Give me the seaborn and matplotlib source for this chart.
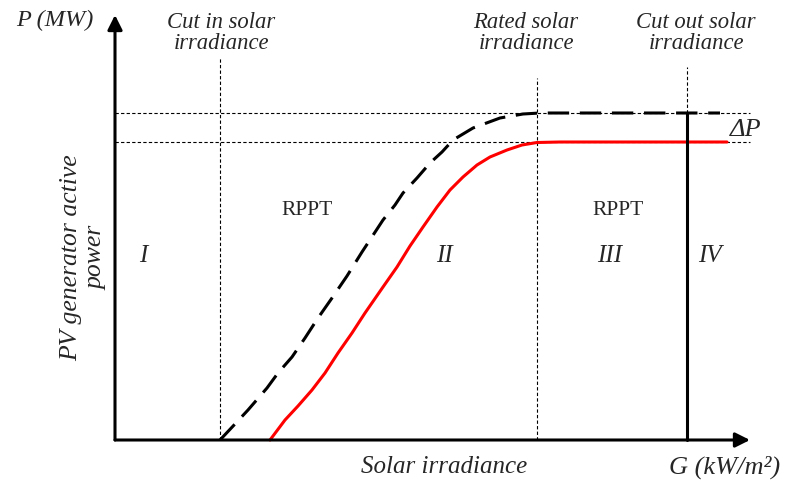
import matplotlib
matplotlib.use("Agg")
import matplotlib.pyplot as plt
import seaborn as sns
import pandas as pd

sns.set_theme(style="white")
plt.rcParams['font.family'] = ['Liberation Serif', 'DejaVu Serif']

# Data (schematic units: x = irradiance, y = power)
red_x = [1.55, 1.70, 1.83, 1.97, 2.10, 2.23, 2.37, 2.50, 2.68, 2.82, 2.95, 3.08, 3.22, 3.35,
         3.48, 3.62, 3.75, 3.92, 4.07, 4.22, 4.45, 6.12]
red_y = [0.00, 0.20, 0.34, 0.50, 0.67, 0.87, 1.07, 1.27, 1.53, 1.73, 1.94, 2.13, 2.33, 2.50,
         2.63, 2.75, 2.83, 2.90, 2.95, 2.975, 2.98, 2.98]
dash_x = [1.05, 1.20, 1.33, 1.52, 1.63, 1.77, 1.90, 2.03, 2.17, 2.32, 2.47, 2.68, 2.80, 2.88,
          3.02, 3.15, 3.27, 3.38, 3.58, 3.85, 4.08, 4.25, 6.05]
dash_y = [0.00, 0.16, 0.30, 0.52, 0.67, 0.83, 1.02, 1.22, 1.42, 1.64, 1.88, 2.20, 2.35, 2.47,
          2.62, 2.77, 2.88, 3.00, 3.12, 3.22, 3.26, 3.27, 3.27]
cut_in, rated, cut_out = 1.05, 4.22, 5.72
p_avail, p_red = 3.27, 2.98
region_labels = ["I", "II", "III", "IV"]
region_x = [0.28, 3.29, 4.95, 5.95]

fig = plt.figure(figsize=(7.88, 4.83), dpi=100)
ax = fig.add_axes([0, 0, 1, 1])
ax.set_xlim(-1.15, 6.73)
ax.set_ylim(-0.43, 4.40)
ax.axis("off")

dot = dict(color="black", lw=0.8, ls=(0, (3, 2)))
# guides
ax.plot([0, 6.35], [p_avail, p_avail], **dot)
ax.plot([0, 6.35], [p_red, p_red], **dot)
ax.plot([cut_in, cut_in], [0, 3.82], **dot)
ax.plot([rated, rated], [0, 3.62], **dot)
ax.plot([cut_out, cut_out], [p_avail, 3.73], **dot)

df_red = pd.DataFrame({"x": red_x, "y": red_y})
df_dash = pd.DataFrame({"x": dash_x, "y": dash_y})
sns.lineplot(data=df_red, x="x", y="y", sort=False, estimator=None, color="#ff0000", lw=2.2, ax=ax)
l = sns.lineplot(data=df_dash, x="x", y="y", sort=False, estimator=None, color="black", lw=2.2, ax=ax)
l.lines[-1].set_dashes((7, 3.5))
ax.set_xlabel("")
ax.set_ylabel("")

# cut out vertical thick line
ax.plot([cut_out, cut_out], [0, p_avail], color="black", lw=2.2)

# axes arrows
ap = dict(arrowstyle="-|>", lw=2.2, color="black", mutation_scale=22, shrinkA=0, shrinkB=0)
ax.annotate("", xy=(0, 4.25), xytext=(0, 0), arrowprops=ap)
ax.annotate("", xy=(6.35, 0), xytext=(0, 0), arrowprops=ap)

fs = 16.3
ax.text(-0.6, 4.2, "P (MW)", fontsize=17.5, style="italic", ha="center", va="center")
ax.text(cut_in + 0.01, 4.07, "Cut in solar\nirradiance", fontsize=fs, style="italic", ha="center", va="center", linespacing=1.0)
ax.text(4.11, 4.07, "Rated solar\nirradiance", fontsize=fs, style="italic", ha="center", va="center", linespacing=1.0)
ax.text(5.81, 4.07, "Cut out solar\nirradiance", fontsize=fs, style="italic", ha="center", va="center", linespacing=1.0)
ax.text(6.31, 3.1, "ΔP", fontsize=19, style="italic", ha="center", va="center")
ax.text(1.92, 2.3, "RPPT", fontsize=15.5, ha="center", va="center")
ax.text(5.03, 2.3, "RPPT", fontsize=15.5, ha="center", va="center")
for lab, xx in zip(region_labels, region_x):
    ax.text(xx, 1.84, lab, fontsize=18, style="italic", ha="center", va="center")
ax.text(3.29, -0.27, "Solar irradiance", fontsize=18, style="italic", ha="center", va="center")
ax.text(6.1, -0.27, "G (kW/m²)", fontsize=19, style="italic", ha="center", va="center")
ax.text(-0.31, 1.82, "PV generator active\npower", fontsize=18.5, style="italic", ha="center",
        va="center", rotation=90, linespacing=1.2)

fig.savefig("out.png", dpi=100)
